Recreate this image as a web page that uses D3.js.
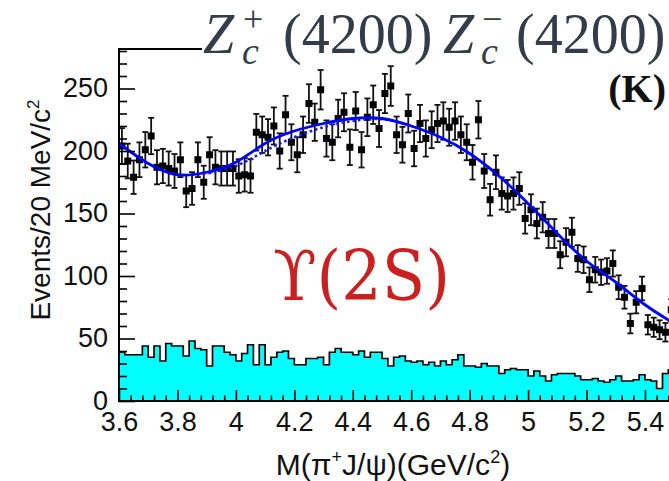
<!DOCTYPE html>
<html><head><meta charset="utf-8">
<script src="https://cdn.jsdelivr.net/npm/d3@7"></script>
<style>body{margin:0;background:#fff}svg{display:block}</style>
</head><body>
<svg id="c" width="669" height="481"></svg>
<script>
// ---- data ----
const binStart = 3.6, binWidth = 0.02;
const dataVals = [204,192,179,193,201,212,187,188,186,184,
 193,168,170,193,175,197,187,186,186,186,
 180,181,180,215,213,211,220,200,229,207,
 197,213,238,223,249,210,207,226,231,203,
 232,201,227,237,218,246,252,213,205,230,
 202,222,210,217,222,224,219,224,213,207,
 191,225,184,161,183,166,164,166,170,146,
 153,142,147,134,134,117,127,135,114,113,
 97,105,103,104,110,91,83,62,79,90,
 61,59,57,55,73];
const bgVals = [39,37,37,37,44,35,44,32,46,44,44,36,48,42,41,28,
 44,44,39,37,32,38,45,29,45,29,35,39,40,34,29,29,
 34,34,35,29,39,42,39,39,37,40,35,39,39,34,28,35,
 36,32,31,32,29,31,28,32,29,33,37,28,28,27,30,28,
 28,22,25,26,25,25,20,24,20,16,21,22,22,22,20,17,
 17,18,16,15,17,20,16,16,17,21,17,16,10,22,25];
const fitX = [3.6,3.7,3.8,3.9,4.0,4.1,4.2,4.3,4.4,4.5,4.6,4.7,4.8,4.9,5.0,5.1,5.2,5.3,5.4,5.5];
const fitY = [206,190,181,183,191,206,216,222,226,226,220,211,198,180,158,134,112,95,77,62];
const dotX = [3.85,3.9,4.0,4.1,4.2,4.3,4.4,4.5,4.6];
const dotY = [181.5,182,188,200,211,219,224,225.5,220];
const xTickValues = [3.6,3.8,4.0,4.2,4.4,4.6,4.8,5.0,5.2,5.4];
const xTickLabels = ["3.6","3.8","4","4.2","4.4","4.6","4.8","5","5.2","5.4"];
const yTickValues = [0,50,100,150,200,250];
const yTickLabels = ["0","50","100","150","200","250"];

// ---- scales ----
const svg = d3.select("#c");
svg.append("rect").attr("width",669).attr("height",481).attr("fill","#fff");
const x = d3.scaleLinear().domain([3.6, 3.6 + 550/292.2]).range([119, 669]);
const y = d3.scaleLinear().domain([0, 352/1.25]).range([401, 49]);

// ---- background histogram ----
const edges = bgVals.map((v,i)=>({e: binStart + binWidth*i, v}));
edges.push({e: binStart + binWidth*bgVals.length, v: bgVals[bgVals.length-1]});
svg.append("path").datum(edges)
  .attr("d", d3.area().curve(d3.curveStepAfter).x(d=>x(d.e)).y0(y(0)).y1(d=>y(d.v)))
  .attr("fill","#00ffff");
svg.append("path").datum(edges)
  .attr("d", d3.line().curve(d3.curveStepAfter).x(d=>x(d.e)).y(d=>y(d.v)))
  .attr("fill","none").attr("stroke","#000").attr("stroke-width",1.7);

// ---- data points ----
const pts = dataVals.map((v,i)=>({cx: binStart + binWidth*(i+0.5), v, e: Math.sqrt(v)}));
const g = svg.append("g").attr("stroke","#111").attr("stroke-width",1.8);
pts.forEach(p=>{
  const px = x(p.cx);
  g.append("line").attr("x1",px).attr("x2",px).attr("y1",y(p.v+p.e)).attr("y2",y(p.v-p.e));
  g.append("line").attr("x1",px-3).attr("x2",px+3).attr("y1",y(p.v+p.e)).attr("y2",y(p.v+p.e));
  g.append("line").attr("x1",px-3).attr("x2",px+3).attr("y1",y(p.v-p.e)).attr("y2",y(p.v-p.e));
  svg.append("rect").attr("x",px-3.5).attr("y",y(p.v)-3.5).attr("width",7).attr("height",7).attr("fill","#000");
});

// ---- fit curves ----
const lineGen = d3.line().curve(d3.curveNatural).x(d=>x(d[0])).y(d=>y(d[1]));
svg.append("path").attr("d", lineGen(dotX.map((v,i)=>[v,dotY[i]])))
  .attr("fill","none").attr("stroke","#1a1aff").attr("stroke-width",2.6).attr("stroke-dasharray","2.5,3");
svg.append("path").attr("d", lineGen(fitX.map((v,i)=>[v,fitY[i]])))
  .attr("fill","none").attr("stroke","#0000ff").attr("stroke-width",2.8);

// ---- axes ----
const xMinor = d3.range(3.6, 5.49, 0.04).filter(v=>!xTickValues.some(t=>Math.abs(t-v)<1e-6));
const yMinor = d3.range(0, 281, 10).filter(v=>v%50!==0);
const axX = svg.append("g").attr("transform","translate(0,401)")
  .call(d3.axisBottom(x).tickValues(xTickValues).tickSize(-11).tickPadding(11)
     .tickFormat((d,i)=>xTickLabels[i]));
const axXm = svg.append("g").attr("transform","translate(0,401)")
  .call(d3.axisBottom(x).tickValues(xMinor).tickSize(-5.5).tickFormat(""));
const axY = svg.append("g").attr("transform","translate(119,0)")
  .call(d3.axisLeft(y).tickValues(yTickValues).tickSize(-16).tickPadding(11)
     .tickFormat((d,i)=>yTickLabels[i]));
const axYm = svg.append("g").attr("transform","translate(119,0)")
  .call(d3.axisLeft(y).tickValues(yMinor).tickSize(-8).tickFormat(""));
[axX,axXm,axY,axYm].forEach(a=>{
  a.select(".domain").remove();
  a.selectAll("line").attr("stroke","#000").attr("stroke-width",1.6);
  a.selectAll("text").attr("font-family","Liberation Sans, Arial, sans-serif")
    .attr("font-size",27).attr("fill","#111");
});
axX.selectAll("text").attr("dy","0.71em");
axY.selectAll("text").attr("dy","0.3em");
svg.append("line").attr("x1",119).attr("x2",119).attr("y1",49).attr("y2",402).attr("stroke","#000").attr("stroke-width",2);
svg.append("line").attr("x1",118).attr("x2",669).attr("y1",401).attr("y2",401).attr("stroke","#000").attr("stroke-width",2);
svg.append("line").attr("x1",118).attr("x2",202).attr("y1",49).attr("y2",49).attr("stroke","#000").attr("stroke-width",2);

// ---- axis titles ----
const xt = svg.append("text").attr("x",393).attr("y",475).attr("text-anchor","middle")
  .attr("font-family","Liberation Sans, Arial, sans-serif").attr("font-size",30).attr("fill","#111");
xt.append("tspan").text("M(π");
xt.append("tspan").attr("font-size",18).attr("dy",-12).text("+");
xt.append("tspan").attr("dy",12).text("J/ψ)(GeV/c");
xt.append("tspan").attr("font-size",18).attr("dy",-12).text("2");
xt.append("tspan").attr("dy",12).text(")");

const yt = svg.append("text").attr("transform","translate(50,210) rotate(-90)").attr("text-anchor","middle")
  .attr("font-family","Liberation Sans, Arial, sans-serif").attr("font-size",28).attr("fill","#111");
yt.append("tspan").text("Events/20 MeV/c");
yt.append("tspan").attr("font-size",17).attr("dy",-11).text("2");

// ---- title ----
const serif = "Liberation Serif, Times New Roman, serif";
const tc = "#333c48";
function T(txt, xx, yy, size, italic){
  return svg.append("text").attr("x",xx).attr("y",yy).attr("font-family",serif)
    .attr("font-size",size).attr("fill",tc).attr("font-style",italic?"italic":"normal").text(txt);
}
T("Z",203,53,56,true);
T("+",243,31,36,false);
T("c",242,64,38,true);
T("(4200)",283,53,56,false);
T("Z",443,53,56,true);
T("−",482,31,36,false);
T("c",481,64,38,true);
T("(4200)",516,53,56,false);
svg.append("text").attr("x",666).attr("y",102).attr("text-anchor","end").attr("font-family",serif)
  .attr("font-weight","bold").attr("font-size",40).attr("fill","#111").text("(K)");

// ---- label ----
svg.append("text").attr("x",273).attr("y",300).attr("font-family","DejaVu Serif, Liberation Serif, serif")
  .attr("font-size",70).attr("fill","#cc1f1f").attr("textLength",177).attr("lengthAdjust","spacingAndGlyphs").text("ϒ(2S)");
</script>
</body></html>
